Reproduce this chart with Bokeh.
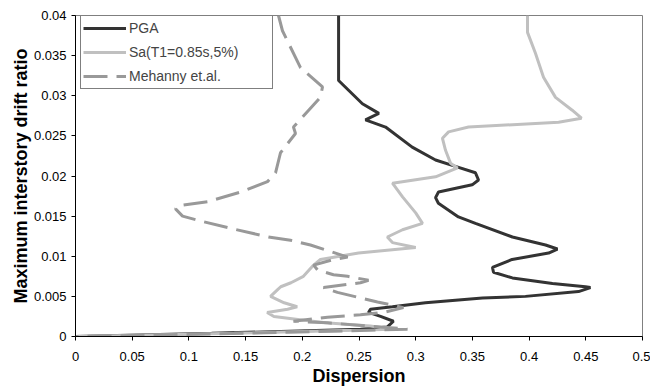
from bokeh.plotting import figure
from bokeh.models import FixedTicker, Legend, LegendItem, Range1d
from bokeh.embed import file_html
from bokeh.resources import INLINE

# ---- data ----
pga_x = [0.232, 0.232, 0.253, 0.2675, 0.2557, 0.2734, 0.2969, 0.3175, 0.335, 0.3527, 0.3554, 0.3498,
         0.3201, 0.3175, 0.320, 0.3377, 0.3527, 0.3853, 0.4145, 0.425, 0.4172, 0.385, 0.3677, 0.3686,
         0.3853, 0.4206, 0.4497, 0.4541, 0.4436, 0.3968, 0.3589, 0.3086, 0.2795, 0.2601, 0.2584, 0.269,
         0.2804, 0.275, 0.2513, 0.12, 0.0]
pga_y = [0.04, 0.0319, 0.0290, 0.0278, 0.0270, 0.0261, 0.0236, 0.0220, 0.0212, 0.0204, 0.0195, 0.0189,
         0.0180, 0.0173, 0.0166, 0.0149, 0.0141, 0.0124, 0.0114, 0.0109, 0.0104, 0.0096, 0.0086, 0.0080,
         0.0073, 0.0066, 0.0062, 0.0061, 0.0056, 0.0050, 0.0048, 0.0042, 0.0037, 0.0034, 0.0030, 0.0025,
         0.0019, 0.0012, 0.0009, 0.0004, 0.0]

sa_x = [0.3986, 0.3986, 0.4056, 0.4127, 0.4233, 0.438, 0.4462, 0.426, 0.3466, 0.329, 0.3236, 0.3263,
        0.3307, 0.3369, 0.3175, 0.2795, 0.2884, 0.300, 0.306, 0.2884, 0.275, 0.2795, 0.300, 0.2496,
        0.216, 0.21, 0.201, 0.19, 0.181, 0.178, 0.172, 0.184, 0.1955, 0.187, 0.169, 0.175, 0.198,
        0.2205, 0.26, 0.28, 0.14, 0.0]
sa_y = [0.04, 0.0379, 0.0353, 0.0323, 0.0298, 0.0282, 0.0272, 0.0267, 0.0261, 0.0255, 0.0247, 0.0232,
        0.0216, 0.0210, 0.0199, 0.0191, 0.0174, 0.0154, 0.0141, 0.0133, 0.0124, 0.0117, 0.0111, 0.0104,
        0.0096, 0.0089, 0.0075, 0.0067, 0.0062, 0.0058, 0.0050, 0.0042, 0.0037, 0.0034, 0.0030, 0.0025,
        0.0021, 0.0017, 0.0013, 0.0009, 0.0004, 0.0]

meh_x = [0.179, 0.1825, 0.1984, 0.2178, 0.216, 0.1922, 0.194, 0.1808, 0.1764, 0.1693, 0.1455, 0.1164,
         0.0908, 0.0882, 0.0944, 0.1129, 0.1393, 0.1702, 0.1896, 0.2072, 0.2205, 0.24, 0.2275, 0.21,
         0.2134, 0.2275, 0.24, 0.2584, 0.2513, 0.2187, 0.231, 0.2663, 0.2892, 0.2716, 0.2513, 0.2222,
         0.1922, 0.2222, 0.2778, 0.2928, 0.15, 0.0]
meh_y = [0.04, 0.0381, 0.0335, 0.0311, 0.0298, 0.0261, 0.0253, 0.0229, 0.0204, 0.0193, 0.0180, 0.0168,
         0.0163, 0.0159, 0.0150, 0.0143, 0.0134, 0.0124, 0.0120, 0.0114, 0.0108, 0.0099, 0.0096, 0.0089,
         0.0083, 0.0077, 0.0075, 0.0070, 0.0067, 0.0061, 0.0055, 0.0043, 0.0036, 0.0030, 0.0027, 0.0024,
         0.0019, 0.0017, 0.0011, 0.0009, 0.0004, 0.0]

x_ticks = [0, 0.05, 0.1, 0.15, 0.2, 0.25, 0.3, 0.35, 0.4, 0.45, 0.5]
x_tick_labels = ["0", "0.05", "0.1", "0.15", "0.2", "0.25", "0.3", "0.35", "0.4", "0.45", "0.5"]
y_ticks = [0, 0.005, 0.01, 0.015, 0.02, 0.025, 0.03, 0.035, 0.04]
y_tick_labels = ["0", "0.005", "0.01", "0.015", "0.02", "0.025", "0.03", "0.035", "0.04"]

series_names = ["PGA", "Sa(T1=0.85s,5%)", "Mehanny et.al."]

FONT = "Liberation Sans"

p = figure(width=650, height=388, output_backend="svg", toolbar_location=None,
           x_range=Range1d(0, 0.5), y_range=Range1d(0, 0.04),
           min_border_left=75, min_border_right=8, min_border_top=15, min_border_bottom=51)
p.background_fill_color = "white"
p.border_fill_color = "white"
p.outline_line_color = "#808080"
p.outline_line_width = 1
p.xgrid.visible = False
p.ygrid.visible = False

r1 = p.line(pga_x, pga_y, line_color="#333333", line_width=3)
r2 = p.line(sa_x, sa_y, line_color="#c0c0c0", line_width=3)
r3 = p.line(meh_x, meh_y, line_color="#999999", line_width=3, line_dash="24 9")

for ax, ticks, labels in ((p.xaxis[0], x_ticks, x_tick_labels), (p.yaxis[0], y_ticks, y_tick_labels)):
    ax.ticker = FixedTicker(ticks=ticks)
    ax.major_label_overrides = {t: l for t, l in zip(ticks, labels)}
    ax.minor_tick_line_color = None
    ax.major_tick_in = 0
    ax.major_tick_out = 4
    ax.axis_line_color = "black"
    ax.major_tick_line_color = "black"
    ax.major_label_text_font = FONT
    ax.major_label_text_font_size = "13px"
    ax.major_label_text_color = "black"
    ax.axis_label_text_font = FONT
    ax.axis_label_text_font_style = "bold"
    ax.axis_label_text_font_size = "18px"
    ax.axis_label_text_color = "black"

p.xaxis.axis_label = "Dispersion"
p.yaxis.axis_label = "Maximum interstory drift ratio"
p.xaxis.major_label_standoff = 11
p.xaxis.axis_label_standoff = 2
p.yaxis.major_label_standoff = 5
p.yaxis.axis_label_standoff = 0

legend = Legend(items=[LegendItem(label=series_names[0], renderers=[r1]),
                       LegendItem(label=series_names[1], renderers=[r2]),
                       LegendItem(label=series_names[2], renderers=[r3])],
                location=(5, 247))
legend.border_line_color = "black"
legend.border_line_width = 1
legend.background_fill_color = "white"
legend.background_fill_alpha = 1
legend.label_text_font = FONT
legend.label_text_font_size = "14px"
legend.glyph_width = 43
legend.glyph_height = 20
legend.label_height = 20
legend.label_standoff = 3
legend.label_width = 141
legend.padding = 2
legend.spacing = 4
legend.margin = 0
p.add_layout(legend)

open("out.html", "w").write(file_html(p, INLINE))
